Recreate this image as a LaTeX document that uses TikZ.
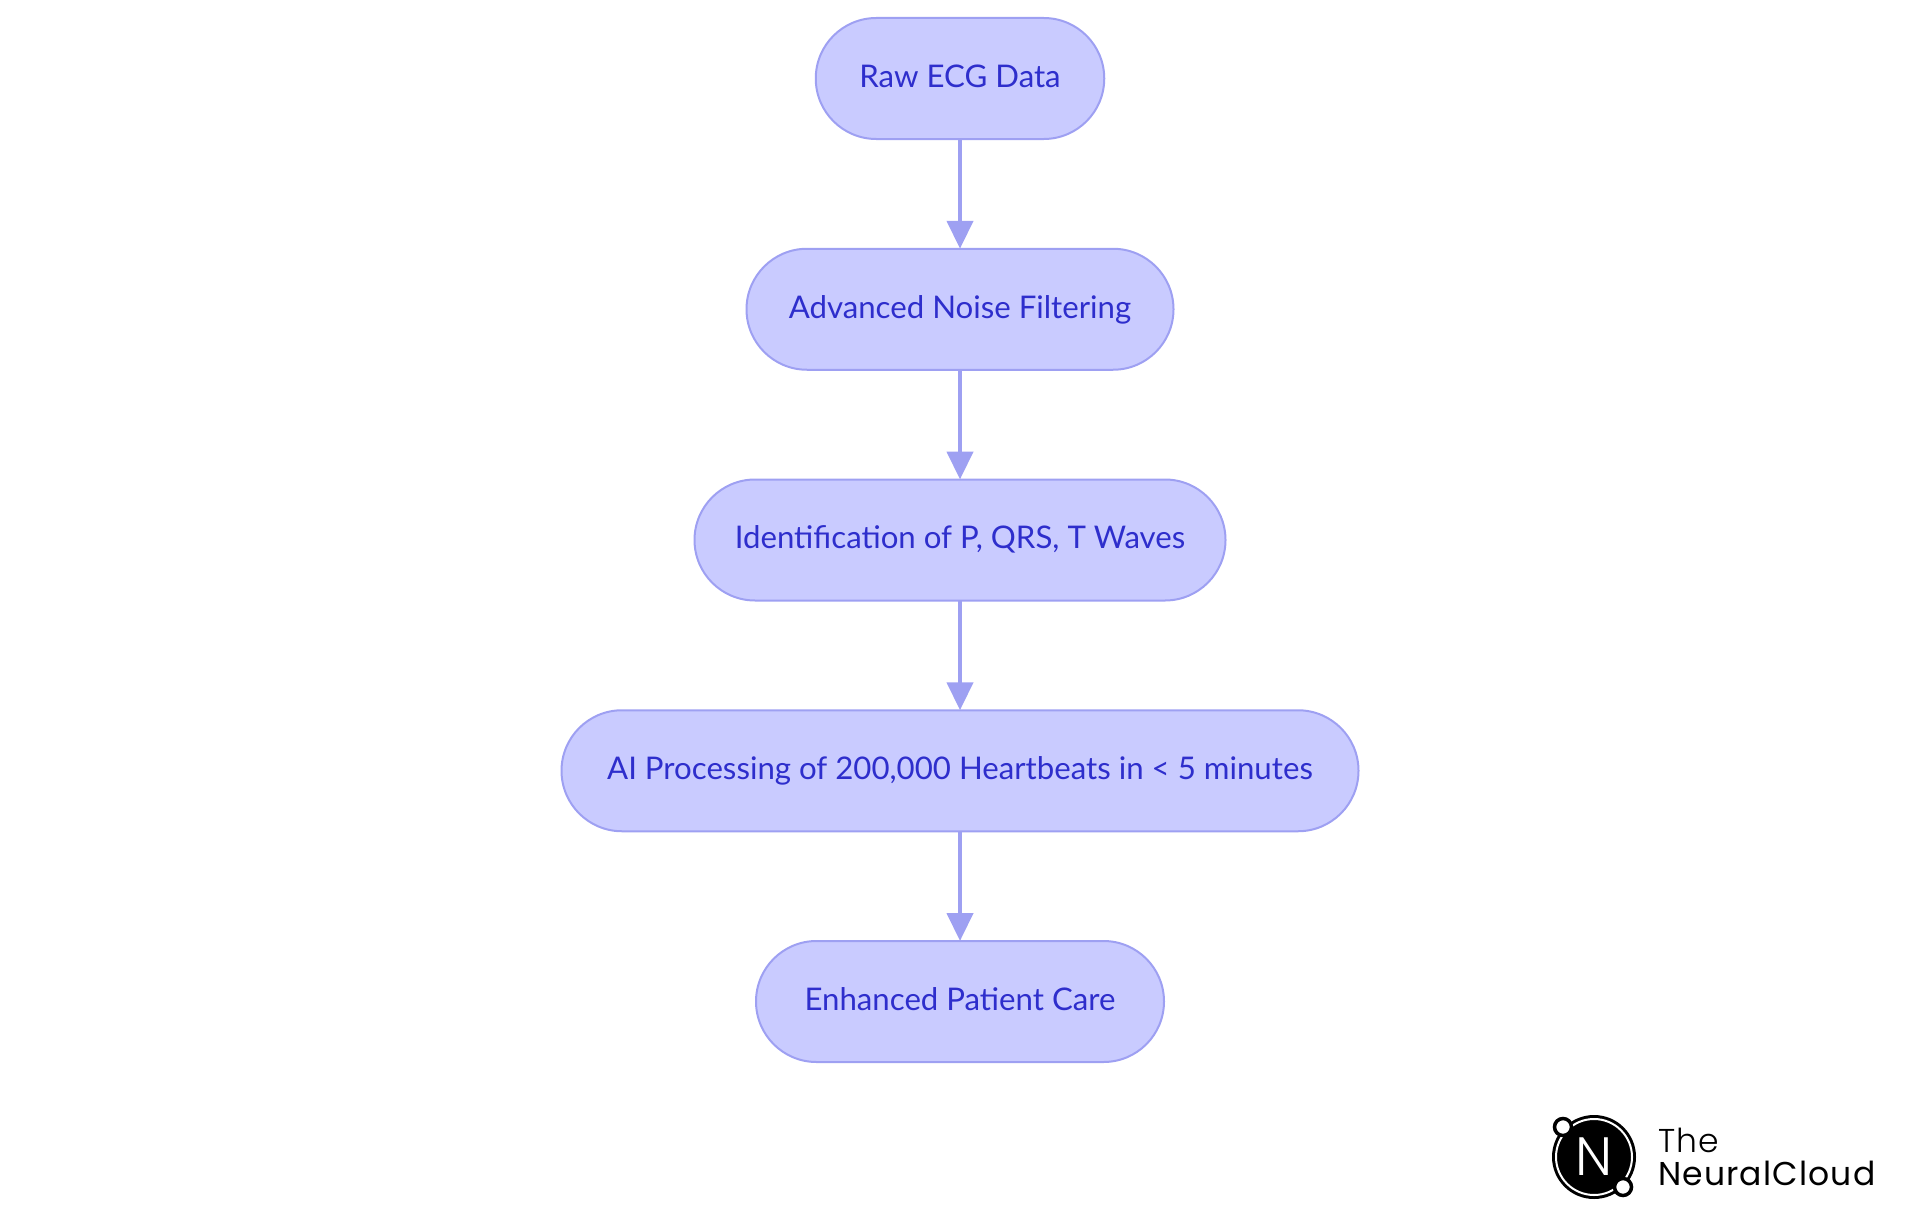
\documentclass[tikz,border=0pt]{standalone}
\usepackage{fontspec}
\setmainfont{Lato}
\newfontfamily\logofont{Poppins}
\newfontface\logolight{Poppins Light}
\usetikzlibrary{positioning,arrows.meta}
\definecolor{pillfill}{HTML}{C9CBFF}
\definecolor{pillline}{HTML}{9EA0F2}
\definecolor{pilltext}{HTML}{2E2ECC}
\tikzset{
	pill/.style={draw=pillline,fill=pillfill,text=pilltext,line width=2pt,rounded corners=60.5pt,
		minimum width=#1,minimum height=121pt,inner sep=0pt,outer sep=0pt,
		text height=24pt,text depth=6.4pt,font=\fontsize{31.2}{36}\selectfont},
	flow/.style={draw=pillline,line width=4.4pt,-{Triangle[length=28pt,width=26pt]}},
	logotext/.style={anchor=base west,inner sep=0pt}
}
\begin{document}
\begin{tikzpicture}[x=1pt,y=1pt,node distance=109.75pt]
	\useasboundingbox (0,0) rectangle (1920,-1215);
	\node[pill=288.5pt] (raw) at (960,-78.5) {Raw ECG Data};
	\node[pill=427pt,below=of raw] (noise) {Advanced Noise Filtering};
	\node[pill=531pt,below=of noise] (waves) {Identification of P, QRS, T Waves};
	\node[pill=797pt,below=of waves] (ai) {AI Processing of 200,000 Heartbeats in < 5 minutes};
	\node[pill=408pt,below=of ai] (care) {Enhanced Patient Care};
	\draw[flow] (raw) -- (noise);
	\draw[flow] (noise) -- (waves);
	\draw[flow] (waves) -- (ai);
	\draw[flow] (ai) -- (care);
	% logo
	\node[circle,fill=black,minimum size=84pt,inner sep=0pt] (disk) at (1594,-1157) {};
	\node[circle,draw=white,line width=2pt,minimum size=76pt,inner sep=0pt] (ring) at (disk) {};
	\node[circle,draw=black,fill=white,line width=3.5pt,minimum size=17pt,inner sep=0pt] (moona) at (1563,-1127) {};
	\node[circle,draw=black,fill=white,line width=3.5pt,minimum size=17pt,inner sep=0pt] (moonb) at (1623,-1187) {};
	\node[text=white,font=\logolight\fontsize{54}{54}\selectfont,inner sep=0pt] (letter) at (disk) {N};
	\node[logotext,font=\logolight\fontsize{33}{38}\selectfont\addfontfeature{LetterSpace=3}] (the) at (1658,-1152) {The};
	\node[logotext,font=\logofont\fontsize{33}{38}\selectfont\addfontfeature{LetterSpace=3.5}] (cloud) at (1658,-1185) {NeuralCloud};
\end{tikzpicture}
\end{document}
